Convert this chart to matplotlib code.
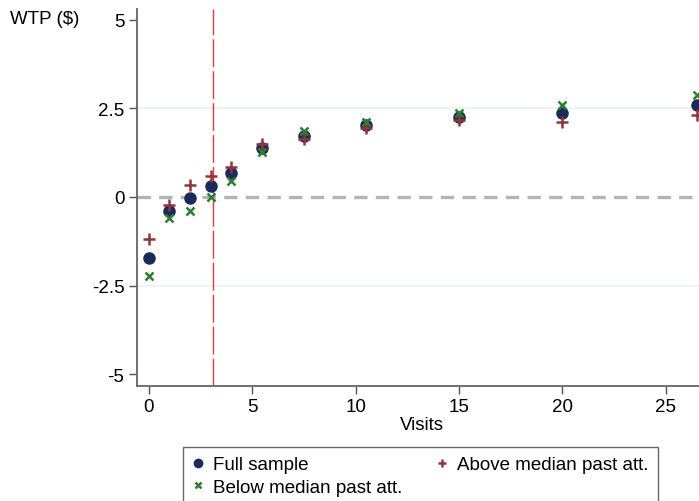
import matplotlib.pyplot as plt
import numpy as np

plt.rcParams['font.family'] = ['Liberation Sans', 'DejaVu Sans']

visits = [0, 1, 2, 3, 4, 5.5, 7.5, 10.5, 15, 20, 26.5]
full = [-1.71, -0.40, -0.04, 0.30, 0.67, 1.38, 1.73, 2.04, 2.27, 2.36, 2.60]
above = [-1.20, -0.23, 0.34, 0.60, 0.84, 1.50, 1.64, 1.95, 2.18, 2.11, 2.32]
below = [-2.22, -0.59, -0.40, 0.01, 0.46, 1.28, 1.85, 2.13, 2.36, 2.61, 2.88]
cutoff = 3.12
yticks = [-5, -2.5, 0, 2.5, 5]
yticklabels = ['-5', '-2.5', '0', '2.5', '5']
xticks = [0, 5, 10, 15, 20, 25]

fig = plt.figure(figsize=(6.99, 5.02), dpi=100)
ax = fig.add_axes([137/699, 1-386.7/502, 1-137/699, (386.7-10)/502])

for y in [-2.5, 2.5]:
    ax.axhline(y, color='#eaf2f3', lw=1.2, zorder=0)
ax.axhline(0, color='#b4b4b4', lw=2.4, dashes=(4, 2.5), zorder=1)
ax.axvline(cutoff, color='#e8383d', lw=1, dashes=(20, 3), zorder=1)

h1, = ax.plot(visits, full, 'o', color='#1a2a5a', ms=8, zorder=3)
h3, = ax.plot(visits, above, '+', color='#90353b', ms=8, mew=1.8, zorder=4)
h2, = ax.plot(visits, below, 'x', color='#2e7d32', ms=5.5, mew=1.8, zorder=4)

ax.set_xlim(-0.565, 26.6)
ax.set_ylim(-5.33, 5.31)
ax.set_yticks(yticks)
ax.set_yticklabels(yticklabels)
ax.set_xticks(xticks)
ax.tick_params(labelsize=13.5, length=6, width=1, color='#555555', pad=3)
for s in ['top', 'right']:
    ax.spines[s].set_visible(False)
for s in ['left', 'bottom']:
    ax.spines[s].set_color('#666666')
    ax.spines[s].set_linewidth(1.3)

fig.text(422/699, 1-425/502, 'Visits', ha='center', va='center', fontsize=13.5)
fig.text(10/699, 1-20/502, 'WTP ($)', ha='left', va='center', fontsize=13.5)

leg = fig.legend([h1, h2, h3], ['Full sample', 'Below median past att.', 'Above median past att.'],
                 ncol=2, loc='upper left', bbox_to_anchor=(183/699, 1-447.7/502),
                 borderaxespad=0, fontsize=13.5, frameon=True, fancybox=False,
                 edgecolor='#444444', handlelength=0.6, handletextpad=0.5,
                 columnspacing=1.8, borderpad=0.5, labelspacing=0.3, markerscale=0.75)
leg.get_frame().set_linewidth(1.0)

fig.savefig('out.png', dpi=100)
